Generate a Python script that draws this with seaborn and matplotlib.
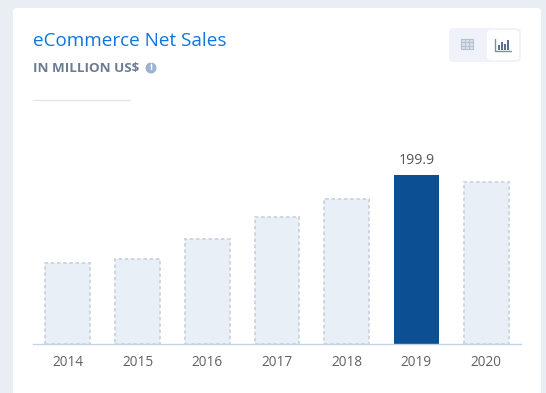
import matplotlib
matplotlib.use('Agg')
import matplotlib.pyplot as plt
from matplotlib.patches import FancyBboxPatch, Rectangle, Circle
import seaborn as sns
import pandas as pd

# values (million US$)
years = ['2014', '2015', '2016', '2017', '2018', '2019', '2020']
sales = [95.8, 100.5, 124.2, 150.2, 171.5, 199.9, 191.6]
highlight_year = '2019'

sns.set_theme(style='white')
plt.rcParams['font.family'] = ['Open Sans', 'DejaVu Sans']

W, H = 546, 393
fig = plt.figure(figsize=(W / 100, H / 100), dpi=100, facecolor='#e9edf4')

# background layer in pixel coordinates (y going down)
bg = fig.add_axes([0, 0, 1, 1])
bg.set_xlim(0, W)
bg.set_ylim(H, 0)
bg.axis('off')

# card
bg.add_patch(FancyBboxPatch((17, 12), 520, 420, boxstyle='round,pad=0,rounding_size=5',
                            fc='#eef1f6', ec='none', mutation_aspect=1))
bg.add_patch(FancyBboxPatch((13, 8), 528, 420, boxstyle='round,pad=0,rounding_size=4',
                            fc='white', ec='none'))

# header text
bg.text(33, 40.5, 'eCommerce Net Sales', color='#0f75e0', fontsize=13.6, va='center', ha='left')
bg.text(33, 68.5, 'IN MILLION US$', color='#6b7c93', fontsize=9.6, fontweight='bold',
        va='center', ha='left')
bg.add_patch(Circle((151, 68), 5.5, fc='#9db3cf', ec='none'))
bg.text(151, 68, 'i', color='white', fontsize=7, fontweight='bold', va='center', ha='center')
bg.plot([33, 130], [99.5, 99.5], color='#e1e5ec', lw=1)

# table / chart toggle
bg.add_patch(FancyBboxPatch((449, 28), 72, 34, boxstyle='round,pad=0,rounding_size=5',
                            fc='#eff2f8', ec='none'))
bg.add_patch(FancyBboxPatch((487, 30), 32, 30, boxstyle='round,pad=0,rounding_size=4',
                            fc='white', ec='none'))
# table icon
bg.add_patch(Rectangle((461, 39), 12, 10, fc='#dbe1ec', ec='#b4bfd0', lw=0.8))
for gx in [465, 469]:
    bg.plot([gx, gx], [39, 49], color='#b4bfd0', lw=0.7)
for gy in [42.3, 45.6]:
    bg.plot([461, 473], [gy, gy], color='#b4bfd0', lw=0.7)
# bar icon
bg.plot([495, 495, 511], [39, 50.5, 50.5], color='#7d8ea8', lw=1)
for ix, top in zip([497.5, 500.5, 503.5, 506.5], [45, 42, 44, 40]):
    bg.add_patch(Rectangle((ix, top), 2.2, 50 - top, fc='#5c6f8c', ec='none'))

# bars
left, right, base, top_px = 33, 521, 344, 120
ax = fig.add_axes([left / W, 1 - base / H, (right - left) / W, (base - top_px) / H])
ax.patch.set_alpha(0)

df = pd.DataFrame({'year': years, 'sales': sales})
colors = {y: ('#0d4f93' if y == highlight_year else '#e8eff7') for y in years}
sns.barplot(data=df, x='year', y='sales', hue='year', palette=colors, legend=False,
            width=0.645, saturation=1, ax=ax)

for patch, y in zip(ax.patches, years):
    if y == highlight_year:
        patch.set_edgecolor('none')
    else:
        patch.set_edgecolor('#cfd6e0')
        patch.set_linestyle((0, (1.8, 1.4)))
        patch.set_linewidth(1.4)

hi = years.index(highlight_year)
ax.text(hi, sales[hi] + 8, f'{sales[hi]}', ha='center', va='bottom', color='#555555', fontsize=10.2)

ax.set_xlim(-0.5, 6.5)
ax.set_ylim(0, 199.9 * (base - top_px) / 169)
ax.set_xlabel('')
ax.set_ylabel('')
ax.set_yticks([])
ax.tick_params(axis='x', length=0, pad=8, labelsize=9.8, labelcolor='#616161')
sns.despine(ax=ax, left=True)
ax.spines['bottom'].set_color('#c5d3e8')
ax.spines['bottom'].set_linewidth(1)

fig.savefig('out.png', dpi=100, facecolor=fig.get_facecolor())
